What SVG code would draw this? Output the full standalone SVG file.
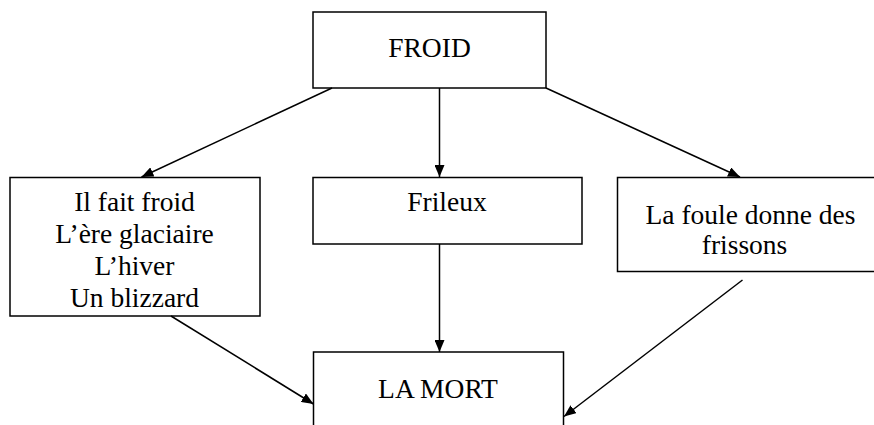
<svg xmlns="http://www.w3.org/2000/svg" width="874" height="425" viewBox="0 0 874 425">
<defs>
<style>
.box{fill:#fff;stroke:#000;stroke-width:1.5}
.t{font-family:"Liberation Serif","Times New Roman",serif;font-size:27.5px;fill:#000;text-anchor:middle}
.c{stroke:#000;stroke-width:1.5;fill:none;marker-end:url(#ah)}
</style>
<marker id="ah" viewBox="0 0 12 10" refX="12" refY="5" markerWidth="12" markerHeight="10" markerUnits="userSpaceOnUse" orient="auto">
<path d="M0,0 L12,5 L0,10 z" fill="#000"/>
</marker>
</defs>
<rect width="874" height="425" fill="#fff"/>
<g id="froid">
<rect class="box" x="313" y="12" width="233" height="76"/>
<text class="t" x="429.5" y="57">FROID</text>
</g>
<g id="gauche">
<rect class="box" x="10" y="177.5" width="250" height="138.5"/>
<text class="t" x="134.5" y="211">Il fait froid</text>
<text class="t" x="134.5" y="243">L’ère glaciaire</text>
<text class="t" x="134.5" y="275">L’hiver</text>
<text class="t" x="134.5" y="307">Un blizzard</text>
</g>
<g id="frileux">
<rect class="box" x="313" y="177.5" width="269" height="66.5"/>
<text class="t" x="447" y="211">Frileux</text>
</g>
<g id="foule">
<rect class="box" x="617.5" y="177.5" width="258" height="94"/>
<text class="t" x="750.5" y="223.5">La foule donne des</text>
<text class="t" x="744.5" y="254">frissons</text>
</g>
<g id="mort">
<rect class="box" x="313.5" y="352" width="250" height="80"/>
<text class="t" x="438" y="398">LA MORT</text>
</g>
<g id="connectors">
<line class="c" x1="332" y1="88" x2="141.5" y2="177"/>
<line class="c" x1="439.5" y1="88" x2="439.5" y2="177"/>
<line class="c" x1="546" y1="88" x2="740" y2="177"/>
<line class="c" x1="171" y1="316" x2="313.5" y2="404"/>
<line class="c" x1="439.5" y1="244" x2="439.5" y2="352"/>
<line class="c" x1="742.5" y1="280" x2="564" y2="416.5"/>
</g>
</svg>
